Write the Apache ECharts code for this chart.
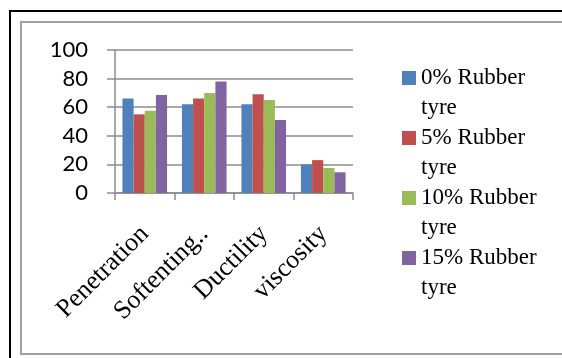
<!DOCTYPE html>
<html><head><meta charset="utf-8">
<script src="https://cdn.jsdelivr.net/npm/echarts@6/dist/echarts.min.js"></script>
<style>html,body{margin:0;padding:0;background:#fff}#c{width:562px;height:358px}</style>
</head><body><div id="c"></div>
<script>
const categories = ["Penetration", "Softenting..", "Ductility", "viscosity"];
const seriesNames = ["0% Rubber tyre", "5% Rubber tyre", "10% Rubber tyre", "15% Rubber tyre"];
const rubber0 = [66, 62, 62, 20];
const rubber5 = [55, 66, 69, 23];
const rubber10 = [57.5, 70, 65, 17.5];
const rubber15 = [68.5, 78, 51, 14.5];
const yTicks = [0, 20, 40, 60, 80, 100];
const colors = ["#4F81BD", "#C0504D", "#9BBB59", "#8064A2"];
const values = [rubber0, rubber5, rubber10, rubber15];

const chart = echarts.init(document.getElementById('c'), null, {renderer: 'canvas'});
const gray = '#8c8c8c';
chart.setOption({
  backgroundColor: '#fff',
  animation: false,
  graphic: [
    {type: 'rect', shape: {x: 10, y: 11, width: 600, height: 400}, style: {fill: 'none', stroke: '#000', lineWidth: 2}, silent: true},
    {type: 'rect', shape: {x: 21, y: 22, width: 600, height: 332}, style: {fill: 'none', stroke: '#a0a0a0', lineWidth: 2}, silent: true}
  ],
  grid: {left: 115, top: 50, right: 209, bottom: 165, containLabel: false},
  legend: {
    orient: 'vertical', left: 402, top: 33, padding: 0, itemGap: -30,
    itemWidth: 14, itemHeight: 14, icon: 'rect',
    data: seriesNames,
    formatter: function (n) { return '\n' + n.replace(' tyre', '\ntyre'); },
    textStyle: {fontFamily: 'Liberation Serif', fontSize: 23, color: '#000', lineHeight: 30}
  },
  xAxis: {
    type: 'category', data: categories,
    axisLine: {show: true, lineStyle: {color: gray, width: 1.5}},
    axisTick: {show: true, length: 7, lineStyle: {color: gray, width: 1.5}},
    axisLabel: {rotate: 45, margin: 37, fontFamily: 'Liberation Serif', fontSize: 26, color: '#000', interval: 0}
  },
  yAxis: {
    type: 'value', min: yTicks[0], max: yTicks[yTicks.length - 1], interval: 20,
    axisLine: {show: true, lineStyle: {color: gray, width: 1.5}},
    axisTick: {show: true, length: 8, lineStyle: {color: gray, width: 1.5}},
    splitLine: {show: true, lineStyle: {color: gray, width: 1.5}},
    axisLabel: {margin: 27, fontFamily: 'Lato', fontSize: 22, color: '#000'}
  },
  series: seriesNames.map((n, i) => ({
    name: n, type: 'bar', data: values[i], barGap: '0%', barCategoryGap: '25%',
    itemStyle: {color: colors[i]}
  }))
});
</script></body></html>
